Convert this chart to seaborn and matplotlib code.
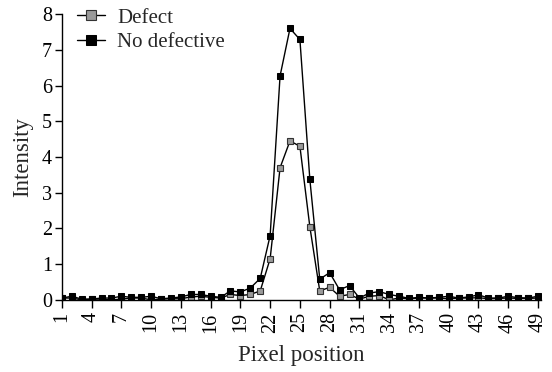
import pandas as pd
import numpy as np
import seaborn as sns
import matplotlib.pyplot as plt

# pixel positions 1..49
pixel = list(range(1, 50))

defect = [0.05, 0.05, 0.0, 0.02, 0.02, 0.0, 0.02, 0.05, 0.05, 0.0,
          0.02, 0.03, 0.03, 0.08, 0.1, 0.07, 0.05, 0.15, 0.12, 0.15,
          0.25, 1.15, 3.7, 4.45, 4.3, 2.05, 0.25, 0.35, 0.1, 0.15,
          0.02, 0.1, 0.12, 0.0, 0.05, 0.03, 0.05, 0.05, 0.05, 0.03,
          0.05, 0.05, 0.06, 0.03, 0.04, 0.05, 0.04, 0.04, 0.05]

no_defective = [0.05, 0.1, 0.02, 0.02, 0.05, 0.05, 0.1, 0.07, 0.07, 0.1,
                0.03, 0.05, 0.08, 0.15, 0.15, 0.1, 0.07, 0.25, 0.22, 0.33,
                0.6, 1.8, 6.27, 7.6, 7.29, 3.38, 0.58, 0.76, 0.28, 0.4,
                0.05, 0.19, 0.23, 0.15, 0.1, 0.04, 0.07, 0.05, 0.07, 0.1,
                0.05, 0.08, 0.14, 0.05, 0.05, 0.1, 0.06, 0.05, 0.1]

xticks = list(range(1, 50, 3))

sns.set_style("ticks")
plt.rcParams['font.family'] = ['Liberation Serif', 'DejaVu Serif']

fig = plt.figure(figsize=(5.52, 3.72), dpi=100)
ax = fig.add_axes([0.112, 0.194, 0.868, 0.768])

sns.lineplot(x=pixel, y=defect, ax=ax, color="black", lw=1.0,
             marker="s", markersize=4.8, markerfacecolor="#9a9a9a",
             markeredgecolor="#333333", markeredgewidth=0.8, label="Defect")
sns.lineplot(x=pixel, y=no_defective, ax=ax, color="black", lw=1.0,
             marker="s", markersize=4.8, markerfacecolor="black",
             markeredgecolor="black", label="No defective")

ax.set_xlim(1, 49.3)
ax.set_ylim(0, 8)
ax.set_xticks(xticks)
ax.set_xticklabels([str(t) for t in xticks], rotation=90, fontsize=14.5)
ax.set_yticks(range(0, 9))
ax.tick_params(axis="y", labelsize=14.5, length=5, width=1, colors="black", pad=2)
ax.tick_params(axis="x", length=6, width=1, colors="black", pad=3)
for s in ["left", "bottom"]:
    ax.spines[s].set_linewidth(1)
    ax.spines[s].set_color("black")
sns.despine(ax=ax)

ax.set_xlabel("Pixel position", fontsize=16.5, labelpad=9)
ax.set_ylabel("Intensity", fontsize=16.5, labelpad=6)

leg = ax.legend(loc="upper left", bbox_to_anchor=(0.005, 1.065), frameon=False,
                fontsize=15, handlelength=1.35, labelspacing=0.25,
                handletextpad=0.6, borderaxespad=0.2, markerscale=1.5)

fig.savefig("out.png", dpi=100)
